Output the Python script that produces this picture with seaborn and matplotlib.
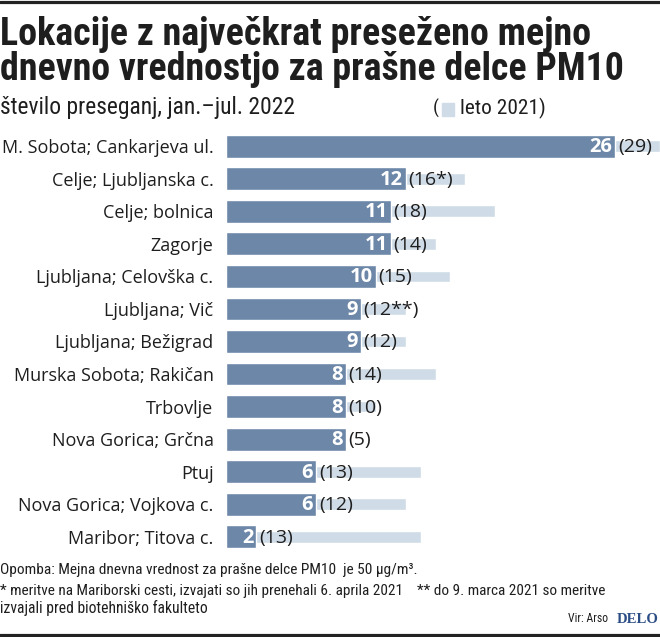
import matplotlib
matplotlib.use("Agg")
import matplotlib.pyplot as plt
import seaborn as sns
import pandas as pd
from matplotlib.patches import Rectangle
from matplotlib.lines import Line2D

# --- DATA ---
locations = [
    "M. Sobota; Cankarjeva ul.", "Celje; Ljubljanska c.", "Celje; bolnica",
    "Zagorje", "Ljubljana; Celovška c.", "Ljubljana; Vič", "Ljubljana; Bežigrad",
    "Murska Sobota; Rakičan", "Trbovlje", "Nova Gorica; Grčna", "Ptuj",
    "Nova Gorica; Vojkova c.", "Maribor; Titova c.",
]
exceed_2022 = [26, 12, 11, 11, 10, 9, 9, 8, 8, 8, 6, 6, 2]
exceed_2021 = [29, 16, 18, 14, 15, 12, 12, 14, 10, 5, 13, 12, 13]
labels_2021 = ["(29)", "(16*)", "(18)", "(14)", "(15)", "(12**)", "(12)",
               "(14)", "(10)", "(5)", "(13)", "(12)", "(13)"]

# --- STYLE ---
DARK = "#6d87a8"
LIGHT = "#cfdbe7"
TEXT = "#1e1e1e"
COND = ["Roboto Condensed", "Roboto", "DejaVu Sans"]

sns.set_style("white")
plt.rcParams["font.family"] = ["Open Sans", "DejaVu Sans"]

W, H = 660, 637
fig = plt.figure(figsize=(W / 100, H / 100), dpi=100)
ax = fig.add_axes([226 / W, 1 - 553 / H, 1 - 226 / W, (553 - 130) / H])

df = pd.DataFrame({"location": locations, "y2022": exceed_2022, "y2021": exceed_2021})

sns.barplot(data=df, y="location", x="y2021", orient="h", color=LIGHT,
            saturation=1, width=0.36, errorbar=None, ax=ax)
sns.barplot(data=df, y="location", x="y2022", orient="h", color=DARK,
            saturation=1, width=0.70, errorbar=None, ax=ax)

ax.set_xlim(0, 29)
ax.set_ylim(12.5, -0.5)
ax.set_xlabel("")
ax.set_ylabel("")
ax.set_xticks([])
for s in ax.spines.values():
    s.set_visible(False)
ax.tick_params(axis="y", length=0, pad=9, labelsize=13, labelcolor=TEXT)

for i, (v, lab) in enumerate(zip(exceed_2022, labels_2021)):
    ax.text(v - 0.18, i + 0.03, str(v), ha="right", va="center", color="white",
            fontsize=14.5, fontweight="bold")
    ax.text(v + 0.2, i + 0.03, lab, ha="left", va="center", color=TEXT, fontsize=14)

renderer = fig.canvas.get_renderer()


def fitted(x0, x1, y, s, **kw):
    # place text and scale its size so it spans x0..x1 px like the original
    t = fig.text(x0 / W, 1 - y / H, s, va="baseline", color=TEXT, **kw)
    w = t.get_window_extent(renderer).width
    t.set_fontsize(t.get_fontsize() * (x1 - x0) / w)
    return t


# --- TITLES ---
fitted(0, 591, 45, "Lokacije z največkrat preseženo mejno", family=COND,
       fontsize=22, fontweight="bold")
fitted(0, 624, 80, "dnevno vrednostjo za prašne delce PM10", family=COND,
       fontsize=22, fontweight="bold")
fitted(0, 297, 114, "število preseganj, jan.–jul. 2022", family=COND, fontsize=14)
fitted(433, 439, 114, "(", family=COND, fontsize=14)
fig.add_artist(Rectangle((442 / W, 1 - 116 / H), 12 / W, 13 / H,
                         transform=fig.transFigure, color=LIGHT))
fitted(460, 546, 114, "leto 2021)", family=COND, fontsize=14)

# --- FOOTNOTES ---
fitted(0, 417, 574, "Opomba: Mejna dnevna vrednost za prašne delce PM10  je 50 µg/m³.",
       family=COND, fontsize=11)
fitted(0, 606, 595,
       "* meritve na Mariborski cesti, izvajati so jih prenehali 6. aprila 2021    ** do 9. marca 2021 so meritve",
       family=COND, fontsize=11)
fitted(0, 208, 613, "izvajali pred biotehniško fakulteto", family=COND, fontsize=11)
fitted(568, 608, 622, "Vir: Arso", family=COND, fontsize=8.5)
fitted(617, 659, 623, "DELO", family=["Liberation Serif", "DejaVu Serif"],
       fontsize=14, fontweight="bold").set_color("#2b4d85")

fig.add_artist(Line2D([0, 1], [1 - 1.5 / H] * 2, color="#222222", lw=2.3))
fig.add_artist(Line2D([0, 1], [1 - 635 / H] * 2, color="#222222", lw=2.3))

fig.savefig("out.png", dpi=100)
